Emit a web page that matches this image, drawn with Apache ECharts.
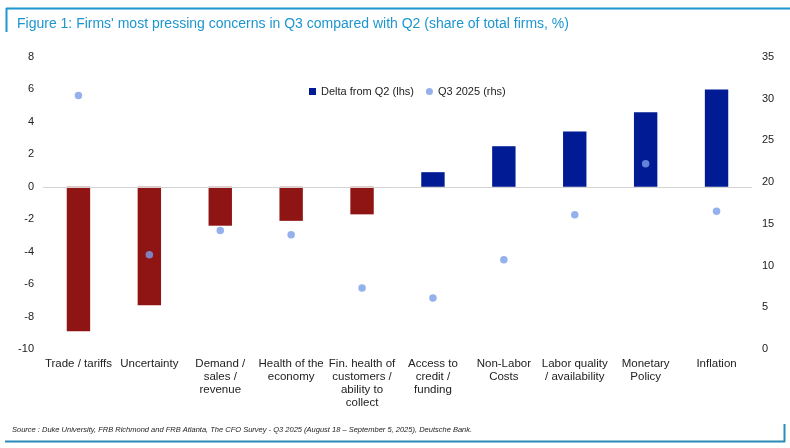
<!DOCTYPE html>
<html>
<head>
<meta charset="utf-8">
<script src="https://cdn.jsdelivr.net/npm/echarts@6/dist/echarts.min.js"></script>
<style>
  html, body { margin: 0; padding: 0; background: #fff; }
  #chart { width: 790px; height: 448px; }
</style>
</head>
<body>
<div id="chart"></div>
<script>
// concerns, ordered as in the figure
const categories = [
  'Trade / tariffs',
  'Uncertainty',
  'Demand /\nsales /\nrevenue',
  'Health of the\neconomy',
  'Fin. health of\ncustomers /\nability to\ncollect',
  'Access to\ncredit /\nfunding',
  'Non-Labor\nCosts',
  'Labor quality\n/ availability',
  'Monetary\nPolicy',
  'Inflation'
]
// change vs Q2, pp (lhs)
const deltaFromQ2 = [-8.9, -7.3, -2.4, -2.1, -1.7, 0.9, 2.5, 3.4, 4.6, 6.0]
// share of firms in Q3 2025, % (rhs)
const q3Share = [30.4, 11.3, 14.2, 13.7, 7.3, 6.1, 10.7, 16.1, 22.2, 16.5]

const lhsTicks = { min: -10, max: 8, interval: 2 }
const rhsTicks = { min: 0, max: 35, interval: 5 }

const BLUE = '#001b94'
const RED = '#8f1414'
const DOT = '#7a9de8'
const FRAME = '#1d96cf'
const FONT = 'Liberation Sans, Arial, sans-serif'

const chart = echarts.init(document.getElementById('chart'))

const option = {
  animation: false,
  textStyle: { fontFamily: FONT },
  title: [
    {
      text: "Figure 1: Firms' most pressing concerns in Q3 compared with Q2 (share of total firms, %)",
      left: 12,
      top: 12,
      textStyle: { fontSize: 14, fontWeight: 'normal', color: FRAME, fontFamily: FONT }
    },
    {
      text: 'Source : Duke University, FRB Richmond and FRB Atlanta, The CFO Survey - Q3 2025 (August 18 – September 5, 2025), Deutsche Bank.',
      left: 7,
      top: 421,
      textStyle: { fontSize: 7.5, fontWeight: 'normal', fontStyle: 'italic', color: '#222', fontFamily: FONT }
    }
  ],
  legend: {
    top: 81,
    left: 304,
    itemWidth: 7,
    itemHeight: 7,
    itemGap: 12,
    textStyle: { fontSize: 11, color: '#222' },
    data: [
      { name: 'Delta from Q2 (lhs)', icon: 'rect' },
      { name: 'Q3 2025 (rhs)', icon: 'circle' }
    ]
  },
  grid: { left: 43, right: 38, top: 57, bottom: 99 },
  xAxis: {
    type: 'category',
    data: categories,
    axisLine: { show: false },
    axisTick: { show: false },
    axisLabel: {
      interval: 0,
      color: '#222',
      fontSize: 11.5,
      lineHeight: 13,
      margin: 8,
      align: 'center',
      verticalAlign: 'top'
    }
  },
  yAxis: [
    {
      type: 'value',
      min: lhsTicks.min,
      max: lhsTicks.max,
      interval: lhsTicks.interval,
      splitLine: { show: false },
      axisLine: { show: false },
      axisTick: { show: false },
      axisLabel: { color: '#222', fontSize: 11, margin: 9 }
    },
    {
      type: 'value',
      min: rhsTicks.min,
      max: rhsTicks.max,
      interval: rhsTicks.interval,
      splitLine: { show: false },
      axisLine: { show: false },
      axisTick: { show: false },
      axisLabel: { color: '#222', fontSize: 11, margin: 10 }
    }
  ],
  series: [
    {
      name: 'Delta from Q2 (lhs)',
      type: 'bar',
      yAxisIndex: 0,
      barWidth: '33%',
      itemStyle: { color: BLUE },
      data: deltaFromQ2.map(v => ({
        value: v,
        itemStyle: { color: v < 0 ? RED : BLUE }
      })),
      markLine: {
        silent: true,
        symbol: 'none',
        label: { show: false },
        lineStyle: { color: '#d4d4d4', type: 'solid', width: 1 },
        data: [{ yAxis: 0 }]
      }
    },
    {
      name: 'Q3 2025 (rhs)',
      type: 'scatter',
      yAxisIndex: 1,
      symbolSize: 7.5,
      itemStyle: { color: DOT },
      data: q3Share
    }
  ],
  graphic: [
    // report frame: top rule with short left tick, bottom rule with short right tick
    { type: 'line', shape: { x1: 6, y1: 8.5, x2: 790, y2: 8.5 }, style: { stroke: FRAME, lineWidth: 2 } },
    { type: 'line', shape: { x1: 6.5, y1: 8, x2: 6.5, y2: 32 }, style: { stroke: FRAME, lineWidth: 2 } },
    { type: 'line', shape: { x1: 5, y1: 441.5, x2: 785, y2: 441.5 }, style: { stroke: '#2a8ab8', lineWidth: 2 } },
    { type: 'line', shape: { x1: 784.5, y1: 424, x2: 784.5, y2: 442 }, style: { stroke: '#2a8ab8', lineWidth: 2 } }
  ]
}

chart.setOption(option)
</script>
</body>
</html>
